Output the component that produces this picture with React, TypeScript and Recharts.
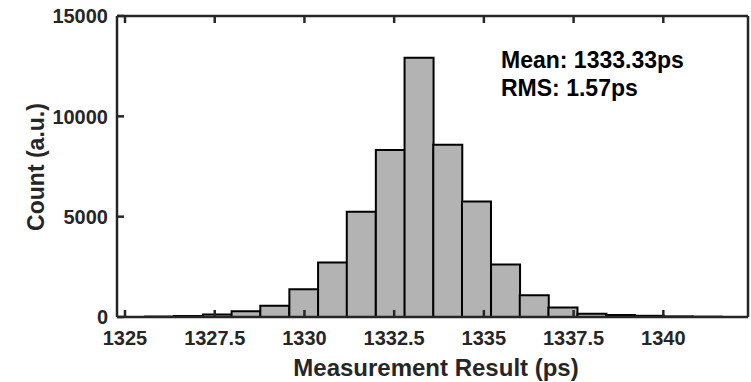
import React from "react";
import { Bar, BarChart, XAxis, YAxis } from "recharts";

// histogram bin centres (ps) and counts
const binCenters = [
  1325.96, 1326.76, 1327.57, 1328.37, 1329.17, 1329.98, 1330.78, 1331.58, 1332.39, 1333.19,
  1333.99, 1334.79, 1335.6, 1336.4, 1337.2, 1338.01, 1338.81, 1339.61, 1340.41, 1341.22,
];
const counts = [
  20, 50, 120, 285, 560, 1380, 2720, 5250, 8320, 12920,
  8585, 5750, 2620, 1085, 470, 160, 100, 60, 30, 15,
];
const xTicks = [1325, 1327.5, 1330, 1332.5, 1335, 1337.5, 1340];
const yTicks = [0, 5000, 10000, 15000];
const xDomain = [1324.777, 1342.36];
const statLines = ["Mean: 1333.33ps", "RMS: 1.57ps"];

const data = binCenters.map((x, i) => ({ x, count: counts[i] }));

const FONT = '"Liberation Sans", Arial, Helvetica, sans-serif';
const AXIS = "#262626";
const TICK_FS = 20;

function XTick({ x, y, payload }: any) {
  return (
    <text x={x} y={y} dy="0.71em" textAnchor="middle" fill={AXIS} fontSize={TICK_FS} fontWeight={700} fontFamily={FONT}>
      {payload.value}
    </text>
  );
}

function YTick({ x, y, payload }: any) {
  return (
    <text x={x} y={y} dy="0.36em" textAnchor="end" fill={AXIS} fontSize={TICK_FS} fontWeight={700} fontFamily={FONT}>
      {payload.value}
    </text>
  );
}

export default function App() {
  return (
    <div style={{ position: "absolute", left: 0, top: 0, width: 751, height: 382, background: "#fff" }}>
      <BarChart
        width={751}
        height={382}
        data={data}
        margin={{ top: 15, right: 2, bottom: 0, left: 0 }}
        barCategoryGap={0}
        barGap={0}
      >
        <XAxis
          xAxisId="b"
          dataKey="x"
          type="number"
          domain={xDomain}
          ticks={xTicks}
          allowDataOverflow
          height={65}
          stroke={AXIS}
          strokeWidth={2.5}
          tickSize={-7}
          tickMargin={21}
          tick={<XTick />}
          label={{
            content: () => (
              <text
                x={436}
                y={376}
                textAnchor="middle"
                style={{ fontSize: 24, fontWeight: 700, fill: AXIS, fontFamily: FONT }}
              >
                Measurement Result (ps)
              </text>
            ),
          }}
        />
        <XAxis
          xAxisId="t"
          dataKey="x"
          type="number"
          orientation="top"
          domain={xDomain}
          ticks={xTicks}
          allowDataOverflow
          height={1}
          stroke={AXIS}
          strokeWidth={2.5}
          tickSize={-7}
          tick={() => <g />}
        />
        <YAxis
          yAxisId="l"
          domain={[0, 15000]}
          ticks={yTicks}
          width={117}
          stroke={AXIS}
          strokeWidth={2.5}
          tickSize={-7}
          tickMargin={16}
          tick={<YTick />}
          label={{
            content: () => (
              <text
                x={36}
                y={167}
                transform="rotate(-90 36 167)"
                textAnchor="middle"
                dominantBaseline="central"
                style={{ fontSize: 23, fontWeight: 700, fill: AXIS, fontFamily: FONT }}
              >
                Count (a.u.)
              </text>
            ),
          }}
        />
        <YAxis
          yAxisId="r"
          orientation="right"
          domain={[0, 15000]}
          ticks={yTicks}
          width={1}
          stroke={AXIS}
          strokeWidth={2.5}
          tickSize={-7}
          tick={() => <g />}
        />
        <Bar
          xAxisId="b"
          yAxisId="l"
          dataKey="count"
          fill="#b3b3b3"
          stroke="#000"
          strokeWidth={2}
          isAnimationActive={false}
        />
      </BarChart>
      <div
        style={{
          position: "absolute",
          left: 501,
          top: 46,
          fontFamily: FONT,
          fontWeight: 700,
          fontSize: 23,
          lineHeight: "28px",
          color: "#000",
          whiteSpace: "nowrap",
        }}
      >
        {statLines.map((s) => (
          <div key={s}>{s}</div>
        ))}
      </div>
    </div>
  );
}
